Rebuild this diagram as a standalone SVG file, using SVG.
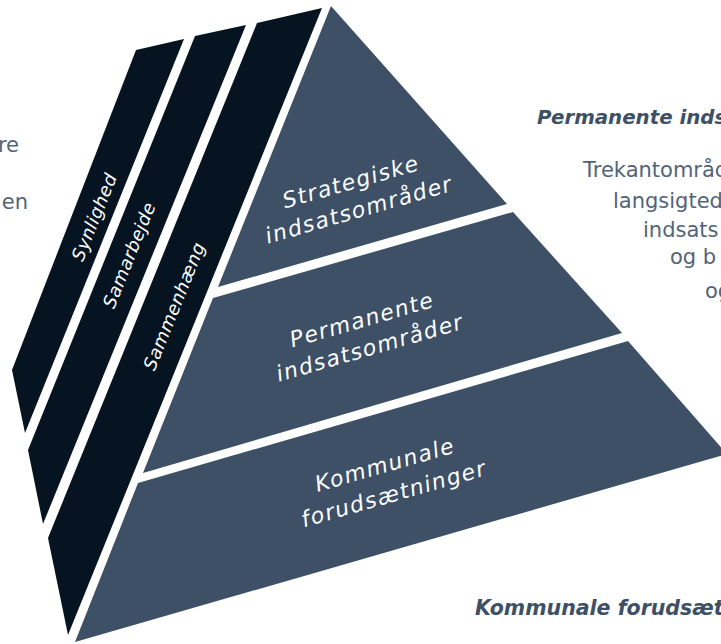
<svg xmlns="http://www.w3.org/2000/svg" width="721" height="644" viewBox="0 0 721 644">
  <style>
    .band { fill: #061422; }
    .seg { fill: #3d5066; }
    .blabel { font-family: "DejaVu Sans", sans-serif; font-style: italic; font-size: 18px; letter-spacing: 0.4px; fill: #ffffff; text-anchor: middle; }
    .plabel { font-family: "DejaVu Sans", sans-serif; font-style: italic; font-size: 22px; letter-spacing: 1.5px; fill: #ffffff; text-anchor: middle; }
    .head { font-family: "DejaVu Sans", sans-serif; font-style: italic; font-weight: bold; font-size: 20.5px; fill: #3d5066; }
    .body { font-family: "DejaVu Sans", sans-serif; font-size: 21px; fill: #52647a; }
  </style>
  <rect x="0" y="0" width="721" height="644" fill="#ffffff"/>

  <g id="band-synlighed">
    <polygon class="band" points="136,50 184,39 25,433 12,370"/>
    <text class="blabel" transform="translate(94,217) rotate(-68)" x="0" y="6.5">Synlighed</text>
  </g>
  <g id="band-samarbejde">
    <polygon class="band" points="195,36 246,25 43,524 28,450"/>
    <text class="blabel" transform="translate(129,255) rotate(-68)" x="0" y="6.5">Samarbejde</text>
  </g>
  <g id="band-sammenhaeng">
    <polygon class="band" points="257,23 322,8 68,635 48,538"/>
    <text class="blabel" transform="translate(174,306) rotate(-68)" x="0" y="6.5">Sammenhæng</text>
  </g>

  <g id="seg-strategiske">
    <polygon class="seg" points="331,6 507,204 218,287"/>
    <text class="plabel" transform="translate(353,189) rotate(-16)" x="0" y="0">Strategiske</text>
    <text class="plabel" transform="translate(361,217) rotate(-16)" x="0" y="0">indsatsområder</text>
  </g>
  <g id="seg-permanente">
    <polygon class="seg" points="213,298 513,212 622,333 143,473"/>
    <text class="plabel" transform="translate(364,327) rotate(-16)" x="0" y="0">Permanente</text>
    <text class="plabel" transform="translate(372,355) rotate(-16)" x="0" y="0">indsatsområder</text>
  </g>
  <g id="seg-kommunale">
    <polygon class="seg" points="138,483 628,341 727,454 75,642"/>
    <text class="plabel" transform="translate(387,472) rotate(-16)" x="0" y="0">Kommunale</text>
    <text class="plabel" transform="translate(396,501) rotate(-16)" x="0" y="0">forudsætninger</text>
  </g>

  <g id="connectors"></g>

  <g id="left-text">
    <text class="body" x="19" y="152" text-anchor="end">re</text>
    <text class="body" x="28" y="209" text-anchor="end">en</text>
  </g>

  <g id="right-text-permanente">
    <text class="head" x="537" y="124" style="font-size:19.8px">Permanente inds</text>
    <text class="body" x="583" y="177">Trekantområd</text>
    <text class="body" x="613" y="208">langsigted</text>
    <text class="body" x="643" y="237">indsats</text>
    <text class="body" x="670" y="264">og b</text>
    <text class="body" x="705" y="298">og</text>
  </g>

  <g id="right-text-kommunale">
    <text class="head" x="475" y="615">Kommunale forudsæt</text>
  </g>
</svg>
